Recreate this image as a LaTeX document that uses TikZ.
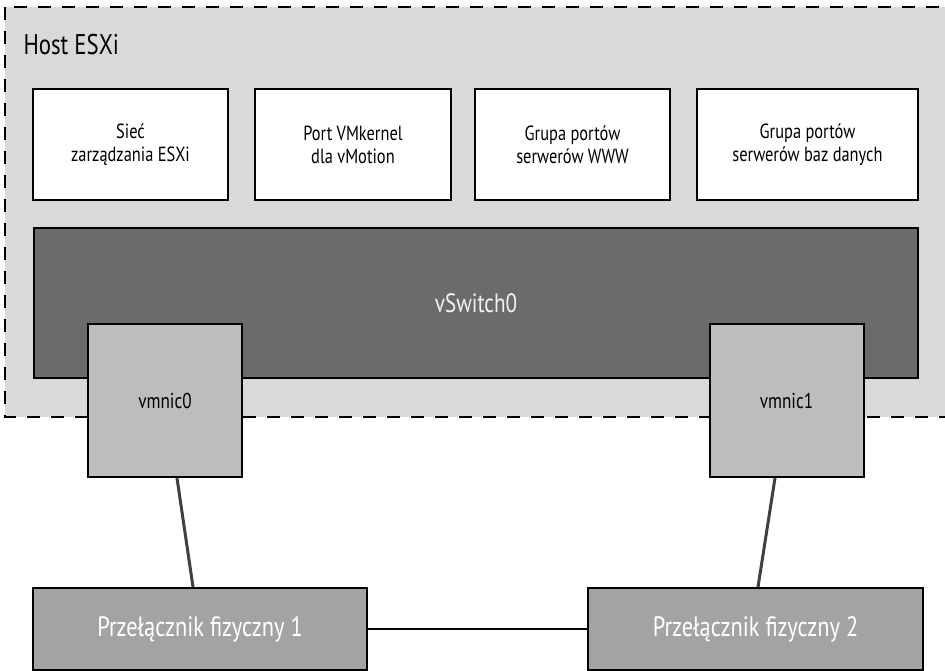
\documentclass[tikz,border=0pt]{standalone}
\usepackage{fontspec}
\setmainfont{PT Sans}[FakeStretch=0.8]
\usepackage{tikz}

\begin{document}
\begin{tikzpicture}
		[x=1pt,y=-1pt,
		grp/.style= {draw=black,line width=2pt,fill=white,inner sep=0pt,minimum width=195pt,minimum height=111pt,align=center,font=\fontsize{20.5}{23}\selectfont},
		nic/.style= {draw=black,line width=2pt,fill=black!26,inner sep=0pt,minimum width=154pt,minimum height=153pt,font=\fontsize{21.5}{24}\selectfont},
		sw/.style= {draw=black,line width=2pt,fill=black!36,inner sep=0pt,minimum width=335pt,minimum height=82pt,text=white,font=\fontsize{28}{32}\selectfont},
		link/.style= {draw=black!75,line width=3pt}]

		\clip (0,0) rectangle (945,671);
		\fill[white] (0,0) rectangle (945,671);

		% host
		\draw[fill=black!15,line width=2.5pt,dash pattern=on 13pt off 11pt] (5,7) rectangle (962,417);
		\node[anchor=base west,font=\fontsize{28.5}{31}\selectfont] (h) at (20,55) {Host ESXi};

		\node[grp] (p1) at (130.5,144.5) {Sieć\\zarządzania ESXi};
		\node[grp,minimum width=196pt] (p2) at (353,144.5) {Port VMkernel\\dla vMotion};
		\node[grp] (p3) at (572.5,144.5) {Grupa portów\\serwerów WWW};
		\node[grp,minimum width=221pt] (p4) at (807.5,144.5) {Grupa portów\\serwerów baz danych};

		\node[draw=black,line width=2pt,fill=black!58,inner sep=0pt,minimum width=884pt,minimum height=150pt,text=black!5,font=\fontsize{26.5}{30}\selectfont,text depth=0pt] (vs) at (476,303) {vSwitch0};

		\node[nic] (nic0) at (165,400.5) {vmnic0};
		\node[nic] (nic1) at (786.5,400.5) {vmnic1};

		\node[sw,minimum width=334pt] (s1) at (200,629) {Przełącznik fizyczny 1};
		\node[sw] (s2) at (755.5,629) {Przełącznik fizyczny 2};

		\draw[link] ([xshift=12pt]nic0.south) -- ([xshift=-7pt]s1.north);
		\draw[link] ([xshift=-11.5pt]nic1.south) -- ([xshift=2.5pt]s2.north);
		\draw[line width=2pt] (s1.east) -- (s2.west);

\end{tikzpicture}
\end{document}
